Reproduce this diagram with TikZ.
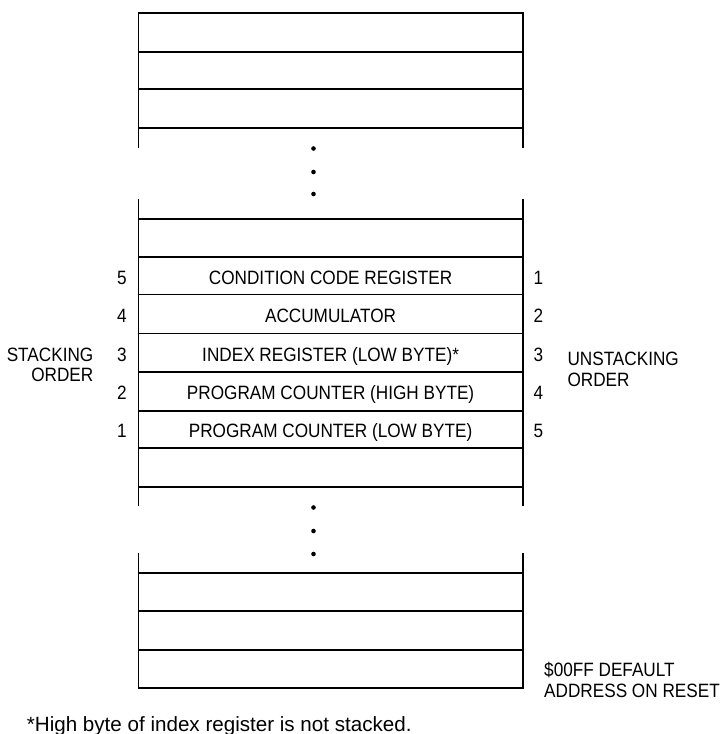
\documentclass[tikz,border=0pt]{standalone}
\usepackage{fontspec}
\setmainfont{Liberation Sans}
\newfontfamily\narrowsans{Liberation Sans}[FakeStretch=0.89]
\begin{document}
\begin{tikzpicture}[x=1pt,y=-1pt,
  rule/.style={line width=1.7pt},
  lbl/.style={inner sep=0pt,font=\narrowsans\fontsize{19.3}{22}\selectfont},
  note/.style={inner sep=0pt,font=\fontsize{20.6}{24}\selectfont},
  dotc/.style={fill=black}]
\useasboundingbox (0,0) rectangle (722,734);
\def\L{138.5}\def\R{522.7}
% top segment
\draw[rule] (\L,148) -- (\L,12.7) -- (\R,12.7) -- (\R,148);
\foreach \y in {51.7,89.3,128.3} \draw[rule] (\L,\y) -- (\R,\y);
\foreach \y in {148.5,172,194} \fill[dotc] (313.5,\y) circle (2.3);
% middle segment
\draw[rule] (\L,199.3) -- (\L,506);
\draw[rule] (\R,199.3) -- (\R,506);
\foreach \y in {219,256.7,294.5,333.5,372,410.7,448.3,486.7} \draw[rule] (\L,\y) -- (\R,\y);
\foreach \y in {507.5,531,554} \fill[dotc] (313.5,\y) circle (2.3);
% bottom segment
\draw[rule] (\L,553) -- (\L,688.3) -- (\R,688.3) -- (\R,553);
\foreach \y in {572.7,610.7,650} \draw[rule] (\L,\y) -- (\R,\y);
% register labels (baselines)
\node[lbl,anchor=base] (ccr) at (330.6,284) {CONDITION CODE REGISTER};
\node[lbl,anchor=base] (acc) at (330.6,322.5) {ACCUMULATOR};
\node[lbl,anchor=base] (ix)  at (330.6,361) {INDEX REGISTER (LOW BYTE)*};
\node[lbl,anchor=base] (pch) at (330.6,399) {PROGRAM COUNTER (HIGH BYTE)};
\node[lbl,anchor=base] (pcl) at (330.6,437) {PROGRAM COUNTER (LOW BYTE)};
% stacking numbers
\node[lbl,anchor=base] (s5) at (122,284) {5};
\node[lbl,anchor=base] (s4) at (122,322.5) {4};
\node[lbl,anchor=base] (s3) at (122,361) {3};
\node[lbl,anchor=base] (s2) at (122,399) {2};
\node[lbl,anchor=base] (s1) at (122,437) {1};
\node[lbl,anchor=base] (u1) at (538.5,284) {1};
\node[lbl,anchor=base] (u2) at (538.5,322.5) {2};
\node[lbl,anchor=base] (u3) at (538.5,361) {3};
\node[lbl,anchor=base] (u4) at (538.5,399) {4};
\node[lbl,anchor=base] (u5) at (538.5,437) {5};
% side labels
\node[lbl,anchor=base east] (stk1) at (93.5,361.7) {STACKING};
\node[lbl,anchor=base east] (stk2) at (93.5,381) {ORDER};
\node[lbl,anchor=base west] (ustk1) at (567.3,365) {UNSTACKING};
\node[lbl,anchor=base west] (ustk2) at (567.3,386.7) {ORDER};
\node[lbl,anchor=base west] (rst1) at (544,676.7) {\$00FF DEFAULT};
\node[lbl,anchor=base west] (rst2) at (544,697.3) {ADDRESS ON RESET};
\node[note,anchor=base west] (fn) at (26.7,731) {*High byte of index register is not stacked.};
\end{tikzpicture}
\end{document}
